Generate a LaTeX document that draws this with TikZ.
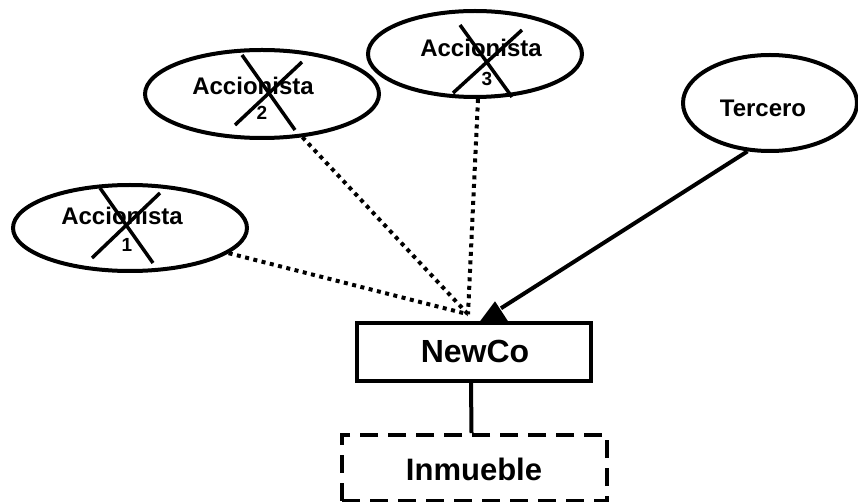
\documentclass[tikz,border=0pt]{standalone}
\usepackage{fontspec}
\setmainfont{Liberation Sans}
\usetikzlibrary{shapes.geometric}
\begin{document}
\begin{tikzpicture}[x=1pt,y=-1pt,
  party/.style={draw,ellipse,line width=4pt,inner sep=0pt},
  boxnode/.style={draw,rectangle,line width=3.5pt,inner sep=0pt},
  ghostbox/.style={draw,rectangle,line width=4pt,inner sep=0pt,dash pattern=on 18pt off 10pt},
  lbl/.style={font=\fontsize{24}{28}\selectfont\bfseries,anchor=base,inner sep=0pt},
  num/.style={font=\fontsize{19}{22}\selectfont\bfseries,anchor=base,inner sep=0pt},
  biglbl/.style={font=\fontsize{32}{38}\selectfont\bfseries,anchor=base,inner sep=0pt},
  cross/.style={line width=3.5pt},
  former/.style={line width=4pt,dash pattern=on 4pt off 4.5pt},
  link/.style={line width=4pt}]
\useasboundingbox (0,0) rectangle (858,502);

% shareholders and third party
\node[party,minimum width=234pt,minimum height=86pt] (acc1) at (130,228) {};
\node[party,minimum width=234pt,minimum height=88pt] (acc2) at (262,94) {};
\node[party,minimum width=214pt,minimum height=86pt] (acc3) at (475,54) {};
\node[party,minimum width=174pt,minimum height=96pt] (terc) at (770,103) {};

\node[lbl] (acc1t) at (122,225) {Accionista};
\node[num] (acc1n) at (127,252) {1};
\node[lbl] (acc2t) at (253,95) {Accionista};
\node[num] (acc2n) at (262,120) {2};
\node[lbl] (acc3t) at (481,57) {Accionista};
\node[num] (acc3n) at (487,86) {3};
\node[lbl] (terct) at (763,117) {Tercero};

% crossed-out shareholders
\draw[cross] (100,188) -- (153,263);
\draw[cross] (92,258) -- (160,193);
\draw[cross] (242,55) -- (295,130);
\draw[cross] (235,125) -- (302,62);
\draw[cross] (460,25) -- (512,97);
\draw[cross] (453,93) -- (522,30);

% companies
\node[boxnode,minimum width=234pt,minimum height=58pt] (newco) at (474,352) {};
\node[biglbl] (newcot) at (475,362) {NewCo};
\node[ghostbox,minimum width=265pt,minimum height=66pt] (inm) at (474.5,468) {};
\node[biglbl,font=\fontsize{31}{37}\selectfont\bfseries] (inmt) at (474,480) {Inmueble};

% connectors
\coordinate (hub) at ([xshift=-6pt,yshift=7pt]newco.north);
\coordinate (tip) at ([xshift=27pt,yshift=13pt]newco.north);
\draw[former] (acc1) -- (hub);
\draw[former] (acc2) -- (hub);
\draw[former] ([xshift=3pt]acc3.south) -- (hub);
\draw[link] (terc.245) -- (tip);
\fill ([xshift=6pt]newco.north) -- ([xshift=34pt]newco.north)
  -- ([xshift=21pt,yshift=20pt]newco.north) -- cycle;
\draw[link] ([xshift=-3pt]newco.south) -- ([xshift=-3pt]inm.north);
\end{tikzpicture}
\end{document}
